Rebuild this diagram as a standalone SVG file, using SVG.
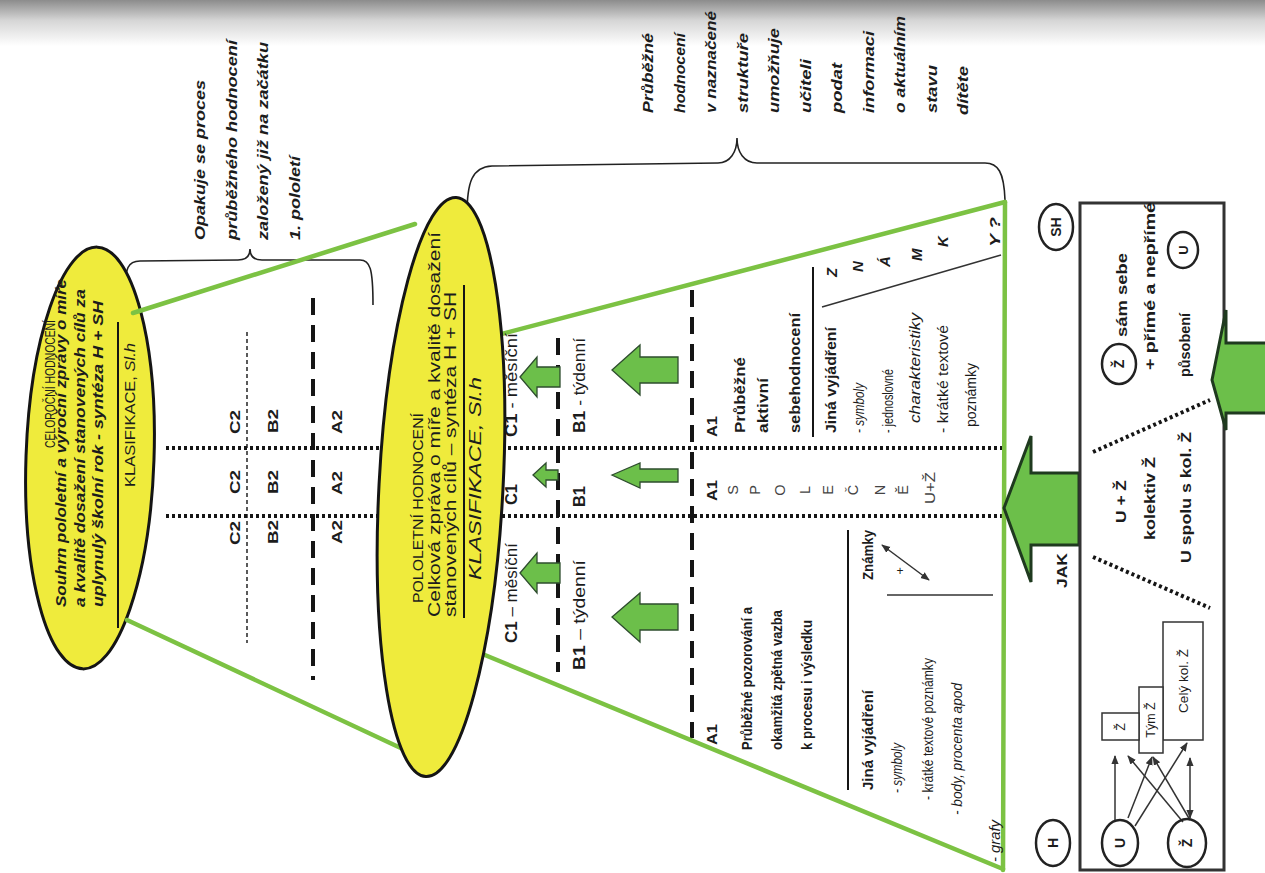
<svg xmlns="http://www.w3.org/2000/svg" width="1265" height="873" viewBox="0 0 1265 873">
<defs>
<linearGradient id="shade" x1="0" y1="0" x2="0" y2="1">
<stop offset="0" stop-color="#8c8c8c"/>
<stop offset="0.45" stop-color="#d6d6d6"/>
<stop offset="1" stop-color="#ffffff"/>
</linearGradient>
<marker id="ah" viewBox="0 0 10 10" refX="9" refY="5" markerWidth="6" markerHeight="6" orient="auto-start-reverse"><path d="M0,1 L10,5 L0,9 z" fill="#333"/></marker>
</defs>
<style>
text{font-family:"Liberation Sans",Arial,sans-serif;fill:#1c1c1c}
.b{font-weight:bold}
.i{font-style:italic}
.bi{font-weight:bold;font-style:italic}
.g{stroke:#7cc243;stroke-width:4.5;fill:none;stroke-linecap:round}
.dot{stroke:#151515;stroke-width:4;stroke-dasharray:3 3;fill:none}
.dash{stroke:#151515;stroke-width:4;stroke-dasharray:17 10;fill:none}
.thin{stroke:#151515;stroke-width:1.4;stroke-dasharray:4 3;fill:none}
.rule{stroke:#151515;stroke-width:2;fill:none}
.br{stroke:#222;stroke-width:1.6;fill:none}
.ell{fill:#efeb3c;stroke:#151515;stroke-width:3}
.arr{fill:#6cbf4a;stroke:#2e4d2e;stroke-width:1.3}
.big{fill:#6cbf4a;stroke:#1f3a1f;stroke-width:3}
.circ{fill:none;stroke:#222;stroke-width:2.5}
.box{fill:none;stroke:#333;stroke-width:3}
.rb{fill:#fff;stroke:#333;stroke-width:1.5}
.ln{stroke:#333;stroke-width:1.5;fill:none}
.lt{fill:#444}
</style>
<rect width="1265" height="873" fill="#fff"/>
<rect width="1265" height="46" fill="url(#shade)"/>

<g id="grid">
<line class="dot" x1="166" y1="448" x2="1003" y2="448"/>
<line class="dot" x1="166" y1="516" x2="1003" y2="516"/>
<line class="thin" x1="247" y1="332" x2="247" y2="643"/>
<line class="dash" x1="313" y1="298" x2="313" y2="680"/>
<line class="dash" x1="558" y1="338" x2="558" y2="672"/>
<line class="dash" x1="692" y1="290" x2="692" y2="738"/>
</g>

<g id="braces">
<path class="br" d="M125 292 C125 268 128 261 140 261 L238 260 C246 260 250 256 250 249 C250 256 254 260 262 260 L360 260 C370 260 373 268 373 305"/>
<path class="br" d="M467 215 C467 182 472 167 492 166 L718 163 C730 163 737 152 737 138 C737 152 744 163 757 163 L985 163 C998 163 1004 172 1005 200"/>
</g>

<g id="ellipse1">
<ellipse class="ell" cx="90" cy="458" rx="64" ry="211" transform="rotate(2 90 458)"/>
<text font-size="14" transform="translate(55,448) rotate(-90)" textLength="128" lengthAdjust="spacingAndGlyphs">CELOROČNÍ HODNOCENÍ</text>
<text class="bi" font-size="14.5" transform="translate(66,607) rotate(-90)" textLength="328" lengthAdjust="spacingAndGlyphs">Souhrn pololetní a výroční zprávy o míře</text>
<text class="bi" font-size="14.5" transform="translate(85,607) rotate(-90)" textLength="318" lengthAdjust="spacingAndGlyphs">a kvalitě dosažení stanovených cílů za</text>
<text class="bi" font-size="14.5" transform="translate(103,607) rotate(-90)" textLength="306" lengthAdjust="spacingAndGlyphs">uplynulý školní rok - syntéza H + SH</text>
<line class="rule" x1="118" y1="322" x2="118" y2="628"/>
<text font-size="15" transform="translate(135,487) rotate(-90)" textLength="144" lengthAdjust="spacingAndGlyphs">KLASIFIKACE, <tspan class="i">Sl.h</tspan></text>
</g>

<g id="connectors">
<line class="g" x1="133" y1="313" x2="415" y2="224"/>
<line class="g" x1="127" y1="620" x2="405" y2="750"/>
<line class="g" x1="490" y1="337" x2="1005" y2="202"/>
<line class="g" x1="480" y1="653" x2="1003" y2="869"/>
</g>

<g id="ellipse2">
<ellipse class="ell" cx="441" cy="487" rx="62" ry="290" transform="rotate(3 441 487)"/>
<text font-size="15.5" transform="translate(423,603) rotate(-90)" textLength="190" lengthAdjust="spacingAndGlyphs">POLOLETNÍ HODNOCENÍ</text>
<text font-size="16" transform="translate(440,617) rotate(-90)" textLength="385" lengthAdjust="spacingAndGlyphs">Celková zpráva o míře a kvalitě dosažení</text>
<text font-size="16" transform="translate(456,617) rotate(-90)" textLength="325" lengthAdjust="spacingAndGlyphs">stanovených cílů – syntéza H + SH</text>
<line class="rule" x1="464" y1="285" x2="464" y2="618"/>
<text class="i" font-size="16" transform="translate(481,580) rotate(-90)" textLength="203" lengthAdjust="spacingAndGlyphs">KLASIFIKACE, Sl.h</text>
</g>

<line id="triangle-edge" class="g" x1="1005" y1="202" x2="1003" y2="870"/>

<g id="note-left">
<text class="bi" font-size="14.5" transform="translate(205,240) rotate(-90)" textLength="160" lengthAdjust="spacingAndGlyphs">Opakuje se proces</text>
<text class="bi" font-size="14.5" transform="translate(236.5,240) rotate(-90)" textLength="200" lengthAdjust="spacingAndGlyphs">průběžného hodnocení</text>
<text class="bi" font-size="14.5" transform="translate(268,240) rotate(-90)" textLength="198" lengthAdjust="spacingAndGlyphs">založený již na začátku</text>
<text class="bi" font-size="14.5" transform="translate(299.5,240) rotate(-90)" textLength="84" lengthAdjust="spacingAndGlyphs">1. pololetí</text>
</g>

<g id="note-right">
<text class="bi" font-size="14.5" transform="translate(653,113) rotate(-90)" textLength="80" lengthAdjust="spacingAndGlyphs">Průběžné</text>
<text class="bi" font-size="14.5" transform="translate(684.5,113) rotate(-90)" textLength="80" lengthAdjust="spacingAndGlyphs">hodnocení</text>
<text class="bi" font-size="14.5" transform="translate(716,113) rotate(-90)" textLength="102" lengthAdjust="spacingAndGlyphs">v naznačené</text>
<text class="bi" font-size="14.5" transform="translate(747.5,113) rotate(-90)" textLength="80" lengthAdjust="spacingAndGlyphs">struktuře</text>
<text class="bi" font-size="14.5" transform="translate(779,113) rotate(-90)" textLength="85" lengthAdjust="spacingAndGlyphs">umožňuje</text>
<text class="bi" font-size="14.5" transform="translate(810.5,113) rotate(-90)" textLength="54" lengthAdjust="spacingAndGlyphs">učiteli</text>
<text class="bi" font-size="14.5" transform="translate(842,113) rotate(-90)" textLength="50" lengthAdjust="spacingAndGlyphs">podat</text>
<text class="bi" font-size="14.5" transform="translate(873.5,113) rotate(-90)" textLength="82" lengthAdjust="spacingAndGlyphs">informaci</text>
<text class="bi" font-size="14.5" transform="translate(905,113) rotate(-90)" textLength="97" lengthAdjust="spacingAndGlyphs">o aktuálním</text>
<text class="bi" font-size="14.5" transform="translate(936.5,113) rotate(-90)" textLength="48" lengthAdjust="spacingAndGlyphs">stavu</text>
<text class="bi" font-size="14.5" transform="translate(968,115) rotate(-90)" textLength="49" lengthAdjust="spacingAndGlyphs">dítěte</text>
</g>

<g id="level2">
<text class="b" font-size="15" transform="translate(240,545) rotate(-90)" textLength="24" lengthAdjust="spacingAndGlyphs">C2</text>
<text class="b" font-size="15" transform="translate(240,494) rotate(-90)" textLength="24" lengthAdjust="spacingAndGlyphs">C2</text>
<text class="b" font-size="15" transform="translate(240,434) rotate(-90)" textLength="24" lengthAdjust="spacingAndGlyphs">C2</text>
<text class="b" font-size="15" transform="translate(278,544) rotate(-90)" textLength="24" lengthAdjust="spacingAndGlyphs">B2</text>
<text class="b" font-size="15" transform="translate(278,494) rotate(-90)" textLength="24" lengthAdjust="spacingAndGlyphs">B2</text>
<text class="b" font-size="15" transform="translate(278,433) rotate(-90)" textLength="24" lengthAdjust="spacingAndGlyphs">B2</text>
<text class="b" font-size="15" transform="translate(342,544) rotate(-90)" textLength="24" lengthAdjust="spacingAndGlyphs">A2</text>
<text class="b" font-size="15" transform="translate(342,495) rotate(-90)" textLength="24" lengthAdjust="spacingAndGlyphs">A2</text>
<text class="b" font-size="15" transform="translate(342,434) rotate(-90)" textLength="24" lengthAdjust="spacingAndGlyphs">A2</text>
</g>

<g id="level1-cb">
<text font-size="16" transform="translate(517,643) rotate(-90)" textLength="100" lengthAdjust="spacingAndGlyphs"><tspan class="b">C1</tspan> – měsíční</text>
<text class="b" font-size="16" transform="translate(517,505) rotate(-90)" textLength="21" lengthAdjust="spacingAndGlyphs">C1</text>
<text font-size="16" transform="translate(517,437) rotate(-90)" textLength="104" lengthAdjust="spacingAndGlyphs"><tspan class="b">C1</tspan> - měsíční</text>
<text font-size="16" transform="translate(585,670) rotate(-90)" textLength="110" lengthAdjust="spacingAndGlyphs"><tspan class="b">B1</tspan> – týdenní</text>
<text class="b" font-size="16" transform="translate(585,507) rotate(-90)" textLength="21" lengthAdjust="spacingAndGlyphs">B1</text>
<text font-size="16" transform="translate(585,433) rotate(-90)" textLength="95" lengthAdjust="spacingAndGlyphs"><tspan class="b">B1</tspan> - týdenní</text>
<polygon class="arr" points="520,377 537,357 537,367 560,367 560,387 537,387 537,397"/>
<polygon class="arr" points="533,475 546,463 546,470 558,470 558,480 546,480 546,487"/>
<polygon class="arr" points="520,573 537,553 537,563 560,563 560,583 537,583 537,593"/>
<polygon class="arr" points="612,370 640,345 640,357 678,357 678,383 640,383 640,395"/>
<polygon class="arr" points="612,475 640,463 640,469 678,469 678,482 640,482 640,488"/>
<polygon class="arr" points="612,617 640,593 640,604 678,604 678,630 640,630 640,642"/>
</g>

<g id="level1-a-upper">
<text class="b" font-size="15" transform="translate(717,437) rotate(-90)" textLength="21" lengthAdjust="spacingAndGlyphs">A1</text>
<text class="b" font-size="15" transform="translate(745,433) rotate(-90)" textLength="76" lengthAdjust="spacingAndGlyphs">Průběžné</text>
<text class="b" font-size="15" transform="translate(768,433) rotate(-90)" textLength="55" lengthAdjust="spacingAndGlyphs">aktivní</text>
<text class="b" font-size="15" transform="translate(800,433) rotate(-90)" textLength="120" lengthAdjust="spacingAndGlyphs">sebehodnocení</text>
<line class="rule" x1="813" y1="267" x2="813" y2="437"/>
<text class="b" font-size="15" transform="translate(836,433) rotate(-90)" textLength="106" lengthAdjust="spacingAndGlyphs">Jiná vyjádření</text>
<text class="i" font-size="15" transform="translate(864,433) rotate(-90)" textLength="50" lengthAdjust="spacingAndGlyphs">- symboly</text>
<text font-size="15" transform="translate(893,433) rotate(-90)" textLength="64" lengthAdjust="spacingAndGlyphs">- jednoslovné</text>
<text class="i" font-size="15" transform="translate(920,423) rotate(-90)" textLength="110" lengthAdjust="spacingAndGlyphs">charakteristiky</text>
<text font-size="15" transform="translate(948,433) rotate(-90)" textLength="108" lengthAdjust="spacingAndGlyphs">- krátké textové</text>
<text font-size="15" transform="translate(976,427) rotate(-90)" textLength="64" lengthAdjust="spacingAndGlyphs">poznámky</text>
<line class="ln" x1="822" y1="307" x2="1001" y2="255"/>
<text class="bi" font-size="15" transform="translate(837,277) rotate(-90)">Z</text>
<text class="bi" font-size="15" transform="translate(863,272) rotate(-90)">N</text>
<text class="bi" font-size="15" transform="translate(890,267) rotate(-90)">Á</text>
<text class="bi" font-size="15" transform="translate(922,261) rotate(-90)">M</text>
<text class="bi" font-size="15" transform="translate(948,247) rotate(-90)">K</text>
<text class="bi" font-size="15" transform="translate(1000,247) rotate(-90)" textLength="30" lengthAdjust="spacingAndGlyphs">Y ?</text>
</g>

<g id="level1-a-middle">
<text class="b" font-size="15" transform="translate(717,501) rotate(-90)" textLength="21" lengthAdjust="spacingAndGlyphs">A1</text>
<g font-size="14.5" text-anchor="middle">
<text class="lt" transform="translate(738,490) rotate(-90)">S</text>
<text class="lt" transform="translate(760,490) rotate(-90)">P</text>
<text class="lt" transform="translate(785,490) rotate(-90)">O</text>
<text class="lt" transform="translate(810,490) rotate(-90)">L</text>
<text class="lt" transform="translate(833,490) rotate(-90)">E</text>
<text class="lt" transform="translate(858,490) rotate(-90)">Č</text>
<text class="lt" transform="translate(885,490) rotate(-90)">N</text>
<text class="lt" transform="translate(908,490) rotate(-90)">Ě</text>
</g>
<text class="lt" font-size="14" transform="translate(935,504) rotate(-90)" textLength="32" lengthAdjust="spacingAndGlyphs">U+Ž</text>
</g>

<g id="level1-a-lower">
<text class="b" font-size="15" transform="translate(717,745) rotate(-90)" textLength="21" lengthAdjust="spacingAndGlyphs">A1</text>
<text class="b" font-size="14.5" transform="translate(752,750) rotate(-90)" textLength="143" lengthAdjust="spacingAndGlyphs">Průběžné pozorování a</text>
<text class="b" font-size="14.5" transform="translate(782,750) rotate(-90)" textLength="140" lengthAdjust="spacingAndGlyphs">okamžitá zpětná vazba</text>
<text class="b" font-size="14.5" transform="translate(812,750) rotate(-90)" textLength="130" lengthAdjust="spacingAndGlyphs">k procesu i výsledku</text>
<line class="rule" x1="848" y1="530" x2="848" y2="790"/>
<text class="b" font-size="15" transform="translate(873,790) rotate(-90)" textLength="100" lengthAdjust="spacingAndGlyphs">Jiná vyjádření</text>
<text class="b" font-size="15" transform="translate(873,580) rotate(-90)" textLength="50" lengthAdjust="spacingAndGlyphs">Známky</text>
<line class="ln" x1="882" y1="545" x2="929" y2="580" marker-start="url(#ah)" marker-end="url(#ah)"/>
<text font-size="12" x="900" y="575" text-anchor="middle">+</text>
<line class="ln" x1="887" y1="595" x2="993" y2="595"/>
<text class="i" font-size="15" transform="translate(902,793) rotate(-90)" textLength="50" lengthAdjust="spacingAndGlyphs">- symboly</text>
<text font-size="15" transform="translate(933,800) rotate(-90)" textLength="142" lengthAdjust="spacingAndGlyphs">- krátké textové poznámky</text>
<text class="i" font-size="15" transform="translate(962,815) rotate(-90)" textLength="132" lengthAdjust="spacingAndGlyphs">- body, procenta apod</text>
<text class="i" font-size="15" transform="translate(1000,862) rotate(-90)" textLength="42" lengthAdjust="spacingAndGlyphs">- grafy</text>
</g>

<g id="jak-arrow">
<polygon class="big" points="1004,508 1031,436 1031,473 1079,473 1079,545 1031,545 1031,582"/>
<text class="b" font-size="14" transform="translate(1067,588) rotate(-90)" textLength="35" lengthAdjust="spacingAndGlyphs">JAK</text>
</g>

<g id="sh">
<ellipse class="circ" cx="1056" cy="227" rx="17" ry="23"/>
<text class="b" font-size="14" text-anchor="middle" transform="translate(1061,227) rotate(-90)">SH</text>
</g>
<g id="h">
<ellipse class="circ" cx="1053" cy="843" rx="17" ry="23"/>
<text class="b" font-size="14" text-anchor="middle" transform="translate(1058,843) rotate(-90)">H</text>
</g>

<g id="box">
<rect class="box" x="1080" y="203" width="144" height="667"/>
<line class="dot" x1="1093" y1="452" x2="1210" y2="400"/>
<line class="dot" x1="1093" y1="557" x2="1210" y2="608"/>
<ellipse class="circ" cx="1119" cy="364" rx="17" ry="20"/>
<text class="b" font-size="14" text-anchor="middle" transform="translate(1124,364) rotate(-90)">Ž</text>
<text class="b" font-size="14.5" transform="translate(1127,337) rotate(-90)" textLength="84" lengthAdjust="spacingAndGlyphs">sám sebe</text>
<text class="b" font-size="14.5" transform="translate(1155,370) rotate(-90)" textLength="168" lengthAdjust="spacingAndGlyphs">+ přímé a nepřímé</text>
<ellipse class="circ" cx="1183" cy="250" rx="15" ry="18"/>
<text class="b" font-size="13" text-anchor="middle" transform="translate(1188,250) rotate(-90)">U</text>
<text class="b" font-size="14.5" transform="translate(1190,377) rotate(-90)" textLength="64" lengthAdjust="spacingAndGlyphs">působení</text>
<text class="b" font-size="14.5" transform="translate(1126,523) rotate(-90)" textLength="43" lengthAdjust="spacingAndGlyphs">U + Ž</text>
<text class="b" font-size="14.5" transform="translate(1155,540) rotate(-90)" textLength="83" lengthAdjust="spacingAndGlyphs">kolektiv Ž</text>
<text class="b" font-size="14.5" transform="translate(1191,563) rotate(-90)" textLength="131" lengthAdjust="spacingAndGlyphs">U spolu s kol. Ž</text>
<rect class="rb" x="1163" y="622" width="40" height="118"/>
<text font-size="13.5" text-anchor="middle" transform="translate(1188,681) rotate(-90)">Celý kol. Ž</text>
<rect class="rb" x="1139" y="687" width="24" height="66"/>
<text font-size="12.5" text-anchor="middle" transform="translate(1155,720) rotate(-90)">Tým Ž</text>
<rect class="rb" x="1102" y="713" width="37" height="27"/>
<text font-size="12.5" text-anchor="middle" transform="translate(1125,727) rotate(-90)">Ž</text>
<line class="ln" x1="1115" y1="820" x2="1115" y2="756" marker-end="url(#ah)"/>
<line class="ln" x1="1128" y1="818" x2="1152" y2="757" marker-end="url(#ah)"/>
<line class="ln" x1="1135" y1="826" x2="1187" y2="743" marker-end="url(#ah)"/>
<line class="ln" x1="1183" y1="822" x2="1128" y2="756" marker-end="url(#ah)"/>
<line class="ln" x1="1190" y1="820" x2="1153" y2="757" marker-end="url(#ah)"/>
<line class="ln" x1="1190" y1="818" x2="1190" y2="758" marker-start="url(#ah)" marker-end="url(#ah)"/>
<ellipse class="circ" cx="1120" cy="843" rx="18" ry="23"/>
<text class="b" font-size="14" text-anchor="middle" transform="translate(1125,843) rotate(-90)">U</text>
<ellipse class="circ" cx="1187" cy="843" rx="19" ry="24"/>
<text class="b" font-size="14" text-anchor="middle" transform="translate(1192,843) rotate(-90)">Ž</text>
</g>

<g id="right-arrow">
<polygon class="big" points="1212,380 1226,310 1226,343 1270,343 1270,413 1226,413 1226,430"/>
</g>
</svg>
